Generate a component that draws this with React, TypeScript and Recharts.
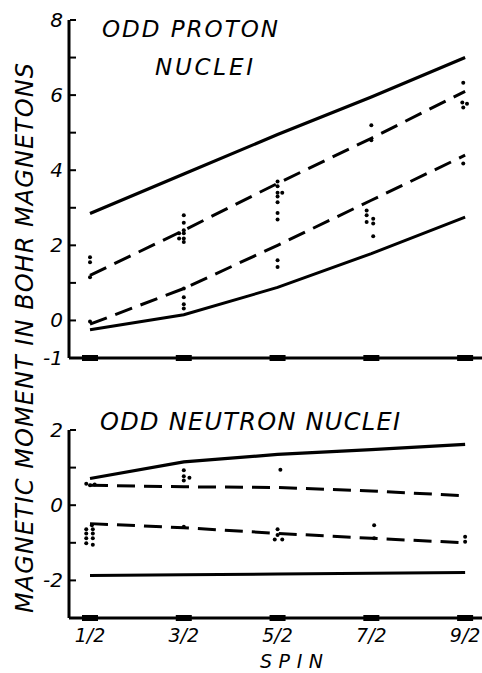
import React from 'react';
import { ComposedChart, Line, Scatter, XAxis, YAxis } from 'recharts';

const spins = [0.5, 1.5, 2.5, 3.5, 4.5];
const spinLabels = ['1/2', '3/2', '5/2', '7/2', '9/2'];

// odd proton nuclei: Schmidt limits (solid) and dashed curves
const protonUpper = [2.85, 3.9, 4.95, 5.95, 7.0];
const protonLower = [-0.25, 0.15, 0.88, 1.78, 2.75];
const protonDashUpper = [1.2, 2.4, 3.65, 4.85, 6.1];
const protonDashLower = [-0.1, 0.85, 2.0, 3.2, 4.4];

// measured moments, odd proton
const protonObsSpin = [
  0.5, 0.5, 0.5, 0.5,
  1.5, 1.5, 1.5, 1.5, 1.5, 1.5, 1.45, 1.45, 1.5, 1.5, 1.5, 1.5,
  2.5, 2.5, 2.5, 2.5, 2.5, 2.5, 2.5, 2.55, 2.5, 2.5,
  3.5, 3.5, 3.45, 3.45, 3.45, 3.52, 3.52, 3.52,
  4.48, 4.47, 4.52, 4.48, 4.48,
];
const protonObsMu = [
  1.68, 1.55, 1.15, -0.03,
  2.8, 2.6, 2.4, 2.32, 2.18, 2.09, 2.32, 2.18, 0.85, 0.62, 0.43, 0.32,
  3.7, 3.57, 3.4, 3.3, 3.15, 2.86, 2.69, 3.4, 1.6, 1.42,
  5.2, 4.8, 2.93, 2.8, 2.62, 2.71, 2.58, 2.24,
  6.33, 5.8, 5.77, 5.67, 4.18,
];

// odd neutron nuclei
const neutronUpper = [0.71, 1.15, 1.35, 1.48, 1.62];
const neutronLower = [-1.87, -1.85, -1.83, -1.81, -1.79];
const neutronDashUpper = [0.53, 0.49, 0.47, 0.38, 0.25];
const neutronDashLower = [-0.49, -0.6, -0.75, -0.88, -1.0];

const neutronObsSpin = [
  0.46, 0.5, 0.55,
  0.46, 0.46, 0.46, 0.46, 0.53, 0.53, 0.53, 0.53, 0.52,
  1.5, 1.5, 1.56, 1.5, 1.5,
  2.53, 2.5, 2.5, 2.47, 2.55,
  3.53, 3.53,
  4.5, 4.5,
];
const neutronObsMu = [
  0.57, 0.53, 0.55,
  -0.64, -0.75, -0.88, -1.01, -0.64, -0.75, -0.88, -1.05, -0.53,
  0.93, 0.77, 0.73, 0.66, -0.57,
  0.94, -0.64, -0.79, -0.91, -0.91,
  -0.53, -0.88,
  -0.84, -0.97,
];

const protonTicks = [-1, 0, 1, 2, 3, 4, 5, 6, 7, 8];
const neutronTicks = [-3, -2, -1, 0, 1, 2];

const FONT = '"DejaVu Sans", sans-serif';
const xDomain = [0.276, 4.68];

const toLine = (vals: number[]) => spins.map((s, i) => ({ x: s, y: vals[i] }));
const toPts = (xs: number[], ys: number[]) => xs.map((s, i) => ({ x: s, y: ys[i] }));

const Dot = (props: any) => <circle cx={props.cx} cy={props.cy} r={2} fill="#000" />;

const makeXTick = (withLabel: boolean) => (props: any) => {
  const { x, y, payload } = props;
  const idx = spins.indexOf(payload.value);
  return (
    <g>
      <rect x={x - 8} y={y - 3} width={16} height={6} fill="#000" />
      {withLabel && (
        <text x={x} y={y + 24} textAnchor="middle" fontFamily={FONT} fontStyle="italic" fontSize={19} fill="#000">
          {spinLabels[idx]}
        </text>
      )}
    </g>
  );
};

const makeYTick = (labelled: number[]) => (props: any) => {
  const { x, y, payload } = props;
  const v = payload.value;
  return (
    <g>
      <line x1={x + 1} x2={x + 7} y1={y} y2={y} stroke="#000" strokeWidth={2} />
      {labelled.includes(v) && (
        <text x={x - 6} y={y + 7} textAnchor="end" fontFamily={FONT} fontStyle="italic" fontSize={20} fill="#000">
          {v}
        </text>
      )}
    </g>
  );
};

function Panel(props: {
  upper: number[]; lower: number[]; dashUpper: number[]; dashLower: number[];
  obsSpin: number[]; obsMu: number[]; domain: number[]; ticks: number[]; labelled: number[];
  height: number; top: number; xHeight: number; withLabels: boolean;
}) {
  const p = props;
  return (
    <ComposedChart width={482} height={p.height} margin={{ top: p.top, right: 0, left: 0, bottom: 0 }}>
      <XAxis
        type="number"
        dataKey="x"
        domain={xDomain}
        allowDataOverflow
        ticks={spins}
        height={p.xHeight}
        tickSize={0}
        tickMargin={0}
        tickLine={false}
        axisLine={{ stroke: '#000', strokeWidth: 3 }}
        tick={makeXTick(p.withLabels)}
        interval={0}
      />
      <YAxis
        type="number"
        dataKey="y"
        domain={p.domain}
        allowDataOverflow
        ticks={p.ticks}
        width={69}
        tickSize={0}
        tickMargin={0}
        tickLine={false}
        axisLine={{ stroke: '#000', strokeWidth: 3 }}
        tick={makeYTick(p.labelled)}
        interval={0}
      />
      <Line data={toLine(p.upper)} dataKey="y" stroke="#000" strokeWidth={3.2} dot={false} isAnimationActive={false} />
      <Line data={toLine(p.lower)} dataKey="y" stroke="#000" strokeWidth={3} dot={false} isAnimationActive={false} />
      <Line data={toLine(p.dashUpper)} dataKey="y" stroke="#000" strokeWidth={3} strokeDasharray="18 9" dot={false} isAnimationActive={false} />
      <Line data={toLine(p.dashLower)} dataKey="y" stroke="#000" strokeWidth={3} strokeDasharray="18 9" dot={false} isAnimationActive={false} />
      <Scatter data={toPts(p.obsSpin, p.obsMu)} dataKey="y" shape={Dot} isAnimationActive={false} />
    </ComposedChart>
  );
}

export default function App() {
  const t = { fontFamily: FONT, fontStyle: 'italic' as const, fill: '#000' };
  return (
    <div style={{ position: 'absolute', left: 0, top: 0, width: 482, height: 673, background: '#fff' }}>
      <div style={{ position: 'absolute', left: 0, top: 0 }}>
        <Panel
          upper={protonUpper} lower={protonLower} dashUpper={protonDashUpper} dashLower={protonDashLower}
          obsSpin={protonObsSpin} obsMu={protonObsMu} domain={[-1, 8]} ticks={protonTicks}
          labelled={[-1, 0, 2, 4, 6, 8]} height={378} top={20} xHeight={20} withLabels={false}
        />
      </div>
      <div style={{ position: 'absolute', left: 0, top: 400 }}>
        <Panel
          upper={neutronUpper} lower={neutronLower} dashUpper={neutronDashUpper} dashLower={neutronDashLower}
          obsSpin={neutronObsSpin} obsMu={neutronObsMu} domain={[-3, 2]} ticks={neutronTicks}
          labelled={[-2, 0, 2]} height={273} top={30} xHeight={55} withLabels={true}
        />
      </div>
      <svg width={482} height={673} style={{ position: 'absolute', left: 0, top: 0, pointerEvents: 'none' }}>
        <text x={102} y={37} fontSize={23} textLength={176} lengthAdjust="spacing" {...t}>ODD PROTON</text>
        <text x={155} y={75} fontSize={23} textLength={98} lengthAdjust="spacing" {...t}>NUCLEI</text>
        <text x={100} y={430} fontSize={24} textLength={300} lengthAdjust="spacing" {...t}>ODD NEUTRON NUCLEI</text>
        <text x={260} y={668} fontSize={19} textLength={63} lengthAdjust="spacing" {...t}>SPIN</text>
        <text
          x={0} y={0} fontSize={24} textLength={550} lengthAdjust="spacing" {...t}
          transform="translate(33,613) rotate(-90)"
        >
          MAGNETIC MOMENT IN BOHR MAGNETONS
        </text>
      </svg>
    </div>
  );
}
